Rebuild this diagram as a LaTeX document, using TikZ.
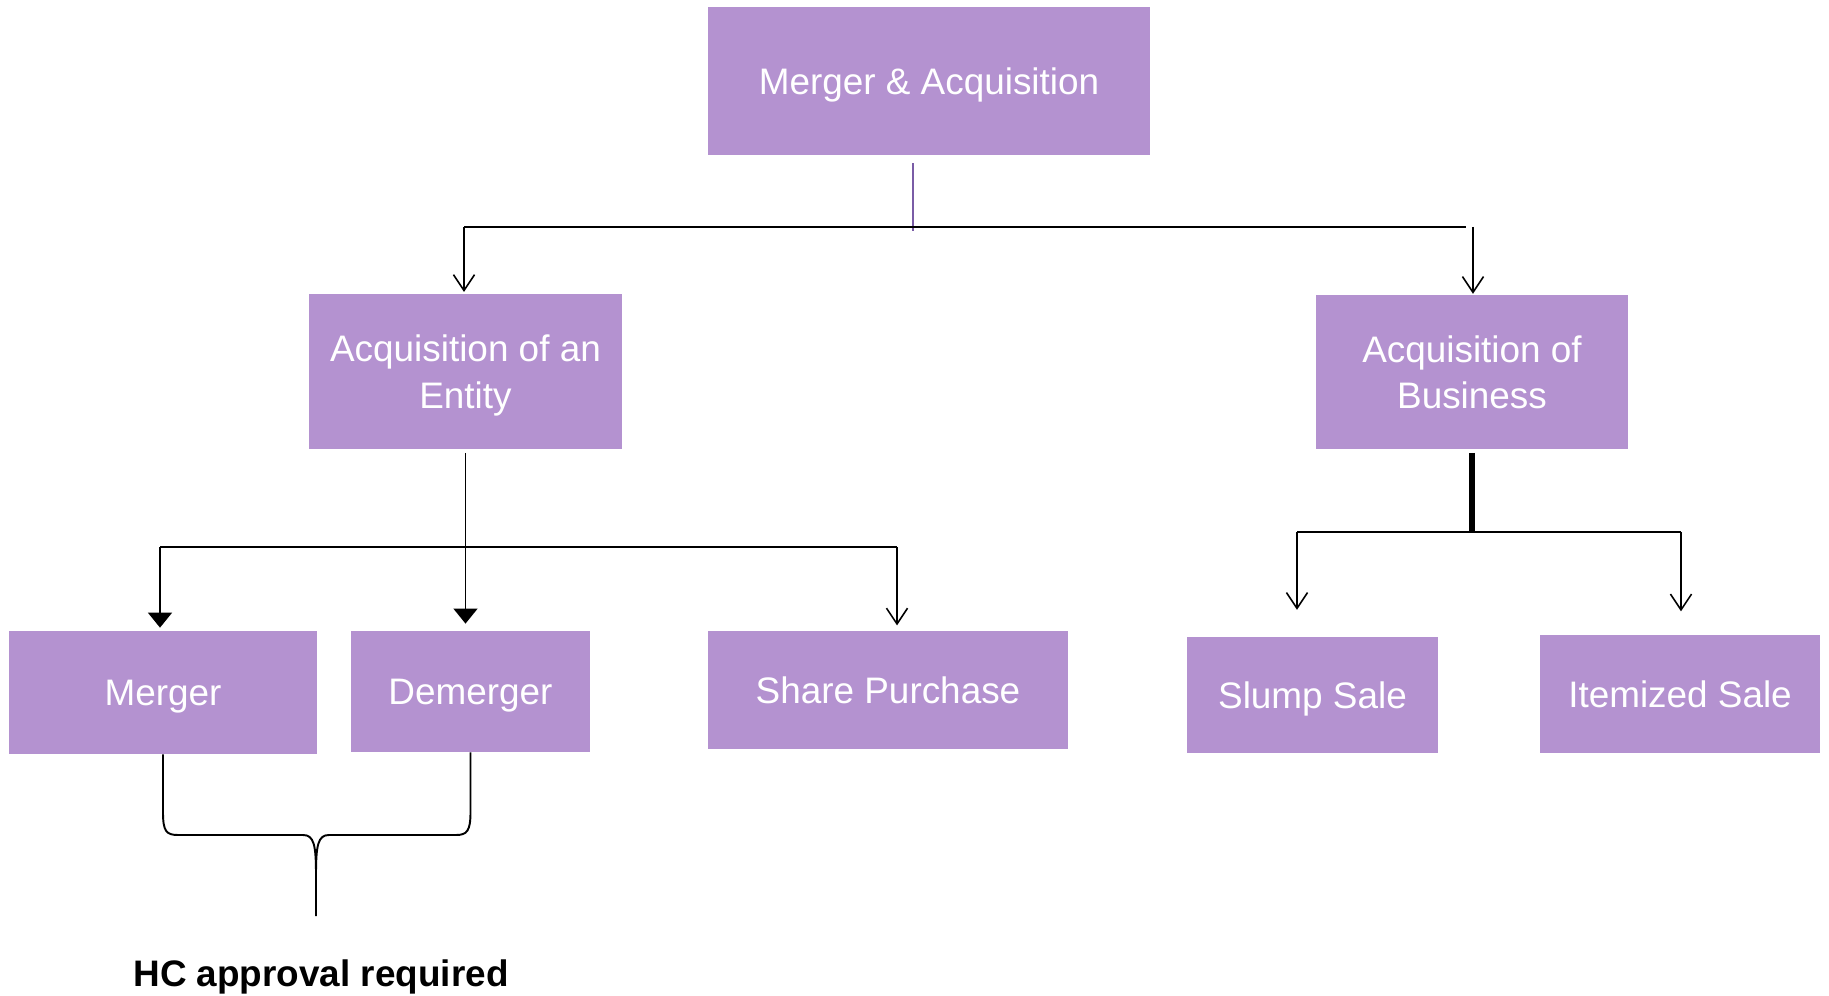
\documentclass[tikz,border=0pt]{standalone}
\usepackage{fontspec}
\setmainfont{Liberation Sans}
\usetikzlibrary{arrows.meta}
\definecolor{mapurple}{RGB}{180,146,208}
\definecolor{stubpurple}{RGB}{122,92,166}

\begin{document}
\begin{tikzpicture}[x=0.02cm, y=0.02cm,
    box/.style={fill=mapurple, text=white, font=\fontsize{21}{26.5}\selectfont, align=center, inner sep=0pt, text depth=0pt},
    bus/.style={line width=1.1pt},
    openarr/.style={-{Straight Barb[length=9pt,width=12pt]}, line width=0.9pt},
    fillarr/.style={-{Triangle[length=8.5pt,width=13.5pt]}, line width=1.1pt},
    brace/.style={line width=1.1pt}]
        \useasboundingbox (0,0) rectangle (1829,-996);

        \node[box, minimum width=8.84cm, minimum height=2.96cm] (ma) at (929,-81) {Merger \& Acquisition};
        \node[box, minimum width=6.26cm, minimum height=3.1cm] (ent) at (465.5,-371.5) {Acquisition of an\\Entity};
        \node[box, minimum width=6.24cm, minimum height=3.08cm] (biz) at (1472,-372) {Acquisition of\\Business};

        \node[box, minimum width=6.16cm, minimum height=2.46cm] (merger) at (163,-692.5) {Merger};
        \node[box, minimum width=4.78cm, minimum height=2.42cm] (demerger) at (470.5,-691.5) {Demerger};
        \node[box, minimum width=7.2cm, minimum height=2.36cm] (share) at (888,-690) {Share Purchase};
        \node[box, minimum width=5.02cm, minimum height=2.34cm] (slump) at (1312.5,-695) {Slump Sale};
        \node[box, minimum width=5.6cm, minimum height=2.38cm] (itemized) at (1680,-694) {Itemized Sale};

        \node[font=\fontsize{21}{25}\selectfont\bfseries] (hc) at (321,-977) {HC approval required};

        \coordinate (topbus) at (913,-231);
        \coordinate (busL) at (464,-227);
        \coordinate (busR) at (1473,-227);
        \draw[stubpurple, line width=0.9pt] (ma.south) ++(-16,-8) -- (topbus);
        \draw[bus] (busL) -- (1466,-227);
        \draw[openarr, shorten >=1pt] (busL) -- (busL |- ent.north);
        \draw[openarr, shorten >=0.5pt] (busR) -- (busR |- biz.north);

        \coordinate (entL) at (160,-547);
        \coordinate (entR) at (897,-547);
        \draw[bus] (entL) -- (entR);
        \draw[fillarr, shorten >=1.7pt] (entL) -- (entL |- merger.north);
        \draw[fillarr, shorten <=2pt, shorten >=4pt] (ent.south) -- (ent.south |- demerger.north);
        \draw[openarr, shorten >=3pt] (entR) -- (entR |- share.north);

        \coordinate (bizL) at (1297,-532);
        \coordinate (bizR) at (1681,-532);
        \draw[line width=3.2pt, shorten <=2pt] (biz.south) -- (biz.south |- bizL);
        \draw[bus] (bizL) -- (bizR);
        \draw[openarr, shorten >=15pt] (bizL) -- (bizL |- slump.north);
        \draw[openarr, shorten >=13pt] (bizR) -- (bizR |- itemized.north);

        \coordinate (hcTip) at (316,-916);
        \draw[brace] (merger.south) -- (163,-812) .. controls (163,-831) and (166,-835) .. (178,-835) -- (303,-835) .. controls (314,-835) and (316,-845) .. (316,-875) -- (hcTip);
        \draw[brace] (demerger.south) -- (470.5,-812) .. controls (470.5,-831) and (467,-835) .. (456,-835) -- (329,-835) .. controls (318,-835) and (316,-845) .. (316,-875);
    \end{tikzpicture}
\end{document}
